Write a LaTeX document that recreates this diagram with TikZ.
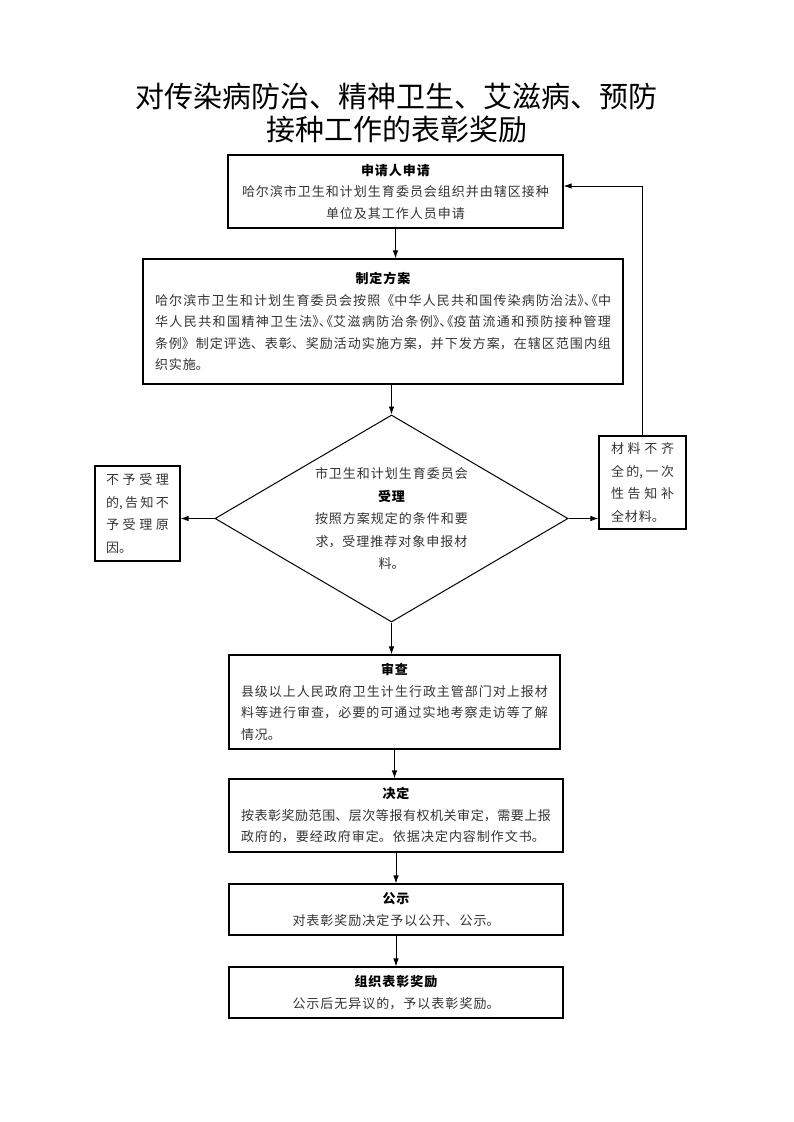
\documentclass[tikz,border=0pt]{standalone}
\usepackage{fontspec}
\setmainfont{Noto Sans CJK SC}
\usetikzlibrary{arrows.meta,shapes.geometric}
\XeTeXlinebreaklocale "zh"
\XeTeXlinebreakskip=1pt plus 3pt minus 1pt
\newcommand{\stephead}[1]{{\color{black}\bfseries #1}}
\newcommand{\halfp}[1]{{\addfontfeature{RawFeature=+halt}#1}}
\tikzset{
	box/.style={draw, line width=1.1pt, inner xsep=12pt, inner ysep=4pt, text=black!80, font=\fontsize{13}{21.5}\selectfont},
	smallbox/.style={box, inner xsep=11pt, text width=63pt, align=justify, font=\fontsize{13}{22.5}\selectfont},
	arr/.style={line width=0.9pt, -{Latex[length=8pt,width=5.5pt]}}
}

\begin{document}
\begin{tikzpicture}[x=1pt, y=1pt]
		%%%%% START %%%%%
		\useasboundingbox (0,0) rectangle (793,-1122);
		
		\node[font=\fontsize{29}{33}\selectfont, align=flush center] (title) at (396.5,-113.5) {对传染病防治、精神卫生、艾滋病、预防\\接种工作的表彰奖励};
		
		\node[box, text width=311pt, minimum height=73pt, align=flush center] (apply) at (395.5,-191.5) {\stephead{申请人申请}\\哈尔滨市卫生和计划生育委员会组织并由辖区接种\\单位及其工作人员申请};
		
		\node[box, text width=456pt, minimum height=125pt, align=justify] (plan) at (383,-321.5) {\noindent{\centering\stephead{制定方案}\par}\noindent 哈尔滨市卫生和计划生育委员会按照《中华人民共和国传染病防治法\halfp{》、《}中\linebreak 华人民共和国精神卫生法\halfp{》、《}艾滋病防治条例\halfp{》、《}疫苗流通和预防接种管理\linebreak 条例》制定评选、表彰、奖励活动实施方案，并下发方案，在辖区范围内组\linebreak 织实施。};
		
		\node[draw, diamond, aspect=1.7, line width=1pt, inner sep=0pt, minimum width=353pt, minimum height=207pt, text width=156pt, align=flush center, text=black!80, font=\fontsize{13}{22.5}\selectfont] (accept) at (391.5,-518.5) {市卫生和计划生育委员会\\\stephead{受理}\\按照方案规定的条件和要\\求，受理推荐对象申报材\\料。};
		
		\node[smallbox, minimum height=95pt] (reject) at (137.5,-513.5) {\noindent 不予受理\linebreak 的,告知不\linebreak 予受理原\linebreak 因。};
		\node[smallbox, inner xsep=12pt, minimum height=93pt] (short) at (642.5,-482.5) {\noindent 材料不齐\linebreak 全的,一次\linebreak 性告知补\linebreak 全材料。};
		
		\node[box, text width=307pt, minimum height=94pt, align=justify] (review) at (394.5,-702) {\noindent{\centering\stephead{审查}\par}\noindent 县级以上人民政府卫生计生行政主管部门对上报材\linebreak 料等进行审查，必要的可通过实地考察走访等了解\linebreak 情况。};
		
		\node[box, text width=310pt, minimum height=73pt, align=justify] (decide) at (396,-815.5) {\noindent{\centering\stephead{决定}\par}\noindent 按表彰奖励范围、层次等报有权机关审定，需要上报\linebreak 政府的，要经政府审定。依据决定内容制作文书。};
		
		\node[box, text width=310pt, minimum height=51pt, align=flush center] (publish) at (396,-909.5) {\stephead{公示}\\对表彰奖励决定予以公开、公示。};
		\node[box, text width=310pt, minimum height=51pt, align=flush center] (award) at (396,-992.5) {\stephead{组织表彰奖励}\\公示后无异议的，予以表彰奖励。};
		
		\draw[arr] (apply.south) -- (apply.south |- plan.north);
		\draw[arr] (accept.north |- plan.south) -- (accept.north);
		\draw[arr] (accept.west) -- (reject.east |- accept.west);
		\draw[arr] (accept.east) -- (short.west |- accept.east);
		\draw[arr] (short.north) |- ([yshift=5.5pt]apply.east);
		\draw[arr] (accept.south) -- (accept.south |- review.north);
		\draw[arr] (review.south) -- (review.south |- decide.north);
		\draw[arr] (decide.south) -- (publish.north);
		\draw[arr] (publish.south) -- (award.north);
		
		%%%%% END %%%%%
	\end{tikzpicture}
\end{document}
